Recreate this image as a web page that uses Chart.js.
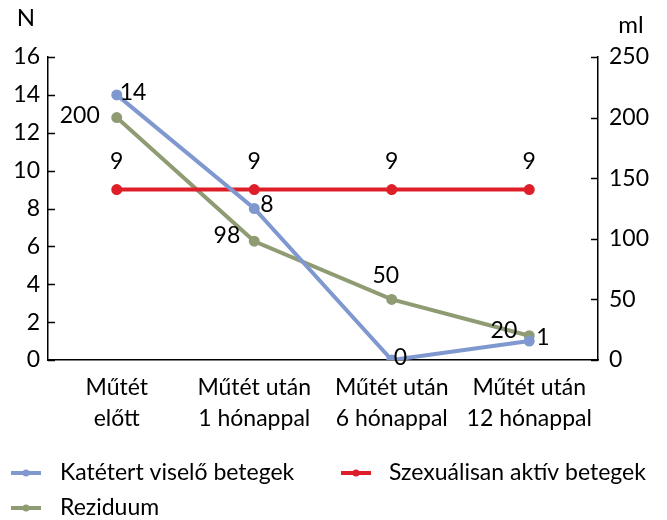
<!DOCTYPE html>
<html>
<head>
<meta charset="utf-8">
<script src="https://cdn.jsdelivr.net/npm/chart.js@4"></script>
<style>
  html, body { margin: 0; padding: 0; background: #fff; }
  #wrap { width: 667px; height: 520px; }
</style>
</head>
<body>
<div id="wrap"><canvas id="chart" width="667" height="520"></canvas></div>
<script>
// ---------------- DATA ----------------
const categories = [
  ["Műtét", "előtt"],
  ["Műtét után", "1 hónappal"],
  ["Műtét után", "6 hónappal"],
  ["Műtét után", "12 hónappal"]
];
const katetert = [14, 8, 0, 1];        // N
const szexualis = [9, 9, 9, 9];        // N
const reziduum = [200, 98, 50, 20];    // ml

const leftTicks = [0, 2, 4, 6, 8, 10, 12, 14, 16];
const rightTicks = [0, 50, 100, 150, 200, 250];

const FONT = "Lato, 'Open Sans', sans-serif";
const BLUE = "#7f98cf";
const RED = "#de1f29";
const GREEN = "#8f9c73";

// label placement per dataset: [dx, dy, align]
const labelPos = [
  [[3, -2, "left"], [6, -4, "left"], [2, -2, "left"], [7, -3, "left"]],
  [[0, -28, "center"], [0, -28, "center"], [0, -28, "center"], [0, -28, "center"]],
  [[-17, -2, "right"], [-14, -6, "right"], [-6, -24, "center"], [-12, -5, "right"]]
];

// ---------------- PLUGIN ----------------
const extras = {
  id: "extras",
  afterDatasetsDraw(chart) {
    const ctx = chart.ctx;
    const { left, right } = chart.chartArea;
    ctx.save();
    // inward tick marks
    ctx.strokeStyle = "#000";
    ctx.lineWidth = 1.5;
    const yL = chart.scales.y, yR = chart.scales.y2;
    yL.ticks.forEach(t => {
      const py = Math.round(yL.getPixelForValue(t.value)) + 0.5;
      ctx.beginPath(); ctx.moveTo(left, py); ctx.lineTo(left + 7, py); ctx.stroke();
    });
    yR.ticks.forEach(t => {
      const py = Math.round(yR.getPixelForValue(t.value)) + 0.5;
      ctx.beginPath(); ctx.moveTo(right, py); ctx.lineTo(right - 7, py); ctx.stroke();
    });

    // data labels
    ctx.fillStyle = "#000";
    ctx.font = "23px " + FONT;
    ctx.textBaseline = "middle";
    chart.data.datasets.forEach((ds, i) => {
      const meta = chart.getDatasetMeta(i);
      meta.data.forEach((pt, j) => {
        const p = labelPos[i][j];
        ctx.textAlign = p[2];
        ctx.fillText(String(ds.data[j]), pt.x + p[0], pt.y + p[1]);
      });
    });

    // axis titles
    ctx.font = "24px " + FONT;
    ctx.textAlign = "center";
    ctx.fillText("N", 26, 18);
    ctx.fillText("ml", 631, 25);

    // legend
    ctx.font = "23px " + FONT;
    const items = [
      [0, 11, 60, 473], [1, 341, 389, 473], [2, 11, 60, 508]
    ];
    items.forEach(([i, x, tx, y]) => {
      const ds = chart.data.datasets[i];
      ctx.strokeStyle = ds.borderColor;
      ctx.fillStyle = ds.borderColor;
      ctx.lineWidth = 4;
      ctx.beginPath(); ctx.moveTo(x, y); ctx.lineTo(x + 30, y); ctx.stroke();
      ctx.beginPath(); ctx.arc(x + 15, y, 3.5, 0, Math.PI * 2); ctx.fill();
      ctx.fillStyle = "#000";
      ctx.textAlign = "left";
      ctx.fillText(ds.label, tx, y);
    });
    ctx.restore();
  }
};

// ---------------- CHART ----------------
function makeLine(label, data, color, axis) {
  return {
    label, data, yAxisID: axis,
    borderColor: color, backgroundColor: color,
    borderWidth: 4, pointRadius: 3.5, pointHoverRadius: 3.5,
    tension: 0
  };
}

const tickFont = { family: FONT, size: 23, lineHeight: 1.3 };

new Chart(document.getElementById("chart"), {
  type: "line",
  data: {
    labels: categories,
    datasets: [
      makeLine("Katétert viselő betegek", katetert, BLUE, "y"),
      makeLine("Szexuálisan aktív betegek", szexualis, RED, "y"),
      makeLine("Reziduum", reziduum, GREEN, "y2")
    ]
  },
  options: {
    responsive: false,
    animation: false,
    layout: { padding: { top: 57, left: 0, right: 0, bottom: 0 } },
    plugins: { legend: { display: false }, tooltip: { enabled: false } },
    scales: {
      x: {
        offset: true,
        grid: { display: false, drawTicks: false },
        border: { display: true, color: "#000", width: 1.5 },
        ticks: { color: "#000", font: { family: FONT, size: 23, lineHeight: 1.35 }, padding: 12, maxRotation: 0 },
        afterFit(s) { s.height = 160; }
      },
      y: {
        position: "left",
        min: 0, max: 16,
        afterBuildTicks(s) { s.ticks = leftTicks.map(v => ({ value: v })); },
        grid: { display: false, drawTicks: false },
        border: { display: true, color: "#000", width: 1.5 },
        ticks: { color: "#000", font: tickFont, padding: 8 },
        afterFit(s) { s.width = 48; }
      },
      y2: {
        position: "right",
        min: 0, max: 250,
        afterBuildTicks(s) { s.ticks = rightTicks.map(v => ({ value: v })); },
        grid: { display: false, drawTicks: false },
        border: { display: true, color: "#000", width: 1.5 },
        ticks: { color: "#000", font: tickFont, padding: 11 },
        afterFit(s) { s.width = 69; }
      }
    }
  },
  plugins: [extras]
});
</script>
</body>
</html>
